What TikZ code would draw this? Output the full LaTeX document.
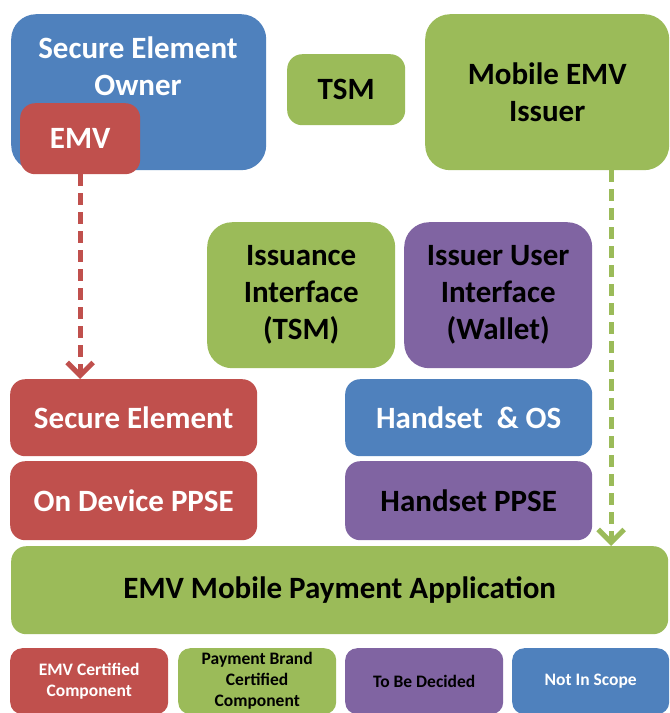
\documentclass[tikz,border=0pt]{standalone}
\usepackage{fontspec}
\setmainfont{Carlito}
\usetikzlibrary{arrows.meta}
\definecolor{cblue}{HTML}{4F81BD}
\definecolor{cred}{HTML}{C0504D}
\definecolor{cgreen}{HTML}{9BBB59}
\definecolor{cpurple}{HTML}{8064A2}
\tikzset{
  box/.style={rectangle, inner sep=0pt, anchor=north west, align=center,
    font=\fontsize{31}{37}\selectfont\bfseries, draw=none},
  bigr/.style={rounded corners=25pt},
  smallr/.style={rounded corners=15pt},
  legr/.style={rounded corners=12pt, font=\fontsize{17.5}{21}\selectfont\bfseries},
  bluebox/.style={box, fill=cblue, text=white},
  redbox/.style={box, fill=cred, text=white},
  greenbox/.style={box, fill=cgreen, text=black},
  purplebox/.style={box, fill=cpurple, text=black},
  dasharrow/.style={line width=5pt, dash pattern=on 12pt off 7pt,
    -{Straight Barb[length=13pt, width=26pt, line width=5pt]}},
}
\begin{document}
\begin{tikzpicture}[x=1pt, y=-1pt]
\useasboundingbox[fill=white] (0,0) rectangle (670,713);
% top row
\node[bluebox, bigr, minimum width=255pt, minimum height=156pt] (seo) at (11,14) {};
\node[font=\fontsize{31}{37}\selectfont\bfseries, text=white, align=center, inner sep=0pt] (seotext) at (138,66) {Secure Element\\Owner};
\node[redbox, smallr, minimum width=120pt, minimum height=71pt] (emv) at (20,103) {EMV};
\node[greenbox, smallr, minimum width=118pt, minimum height=71pt] (tsm) at (287,54) {TSM};
\node[greenbox, bigr, minimum width=244pt, minimum height=156pt] (mei) at (425,14) {Mobile EMV\\Issuer};
% middle row
\node[greenbox, bigr, minimum width=188pt, minimum height=146pt] (iss) at (207,222) {Issuance\\Interface\\(TSM)};
\node[purplebox, bigr, minimum width=188pt, minimum height=146pt] (iui) at (404,222) {Issuer User\\Interface\\(Wallet)};
% stacks
\node[redbox, smallr, minimum width=247pt, minimum height=77pt] (se) at (10,379) {Secure Element};
\node[redbox, smallr, minimum width=247pt, minimum height=79pt] (odp) at (10,461) {On Device PPSE};
\node[bluebox, smallr, minimum width=247pt, minimum height=77pt] (hos) at (345,379) {Handset~~\&~OS};
\node[purplebox, smallr, minimum width=247pt, minimum height=79pt] (hpp) at (345,461) {Handset PPSE};
\node[greenbox, smallr, minimum width=657pt, minimum height=88pt] (app) at (11,546) {EMV Mobile Payment Application};
% legend
\node[redbox, legr, minimum width=158pt, minimum height=66pt] (l1) at (10,648) {EMV Certified\\Component};
\node[greenbox, legr, minimum width=158pt, minimum height=66pt] (l2) at (178,648) {Payment Brand\\Certified\\Component};
\node[purplebox, legr, minimum width=158pt, minimum height=66pt] (l3) at (345,648) {To Be Decided};
\node[bluebox, legr, minimum width=157pt, minimum height=66pt] (l4) at (512,648) {Not In Scope};
% arrows
\draw[dasharrow, draw=cred] (emv.south) -- (emv.south |- se.north);
\coordinate (gstart) at ([xshift=64pt]mei.south);
\draw[dasharrow, draw=cgreen] (gstart) -- (gstart |- app.north);
\end{tikzpicture}
\end{document}
